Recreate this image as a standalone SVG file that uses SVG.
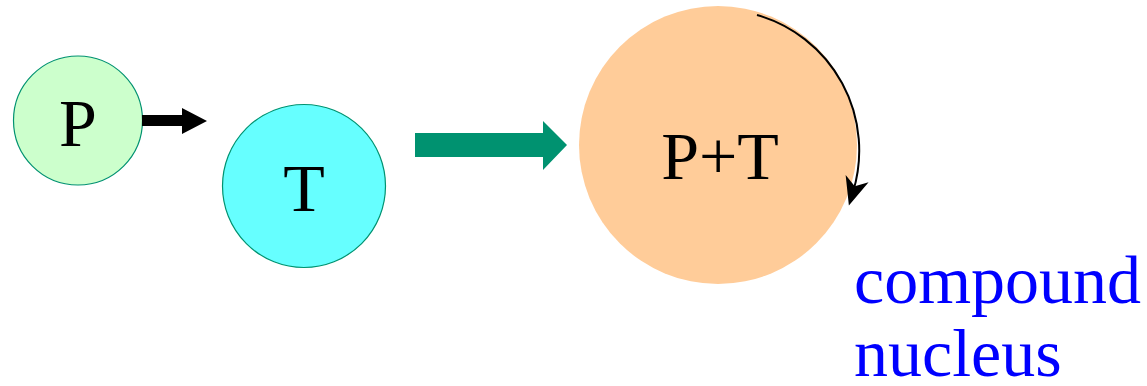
<svg xmlns="http://www.w3.org/2000/svg" width="1147" height="386" viewBox="0 0 1147 386">
  <style>
    .lbl { font-family: "Liberation Serif", "Times New Roman", serif; fill: #000; text-anchor: middle; }
    .blue { font-family: "Liberation Serif", "Times New Roman", serif; fill: #0000FF; }
  </style>
  <defs>
    <marker id="spin" viewBox="0 0 30 30" refX="14" refY="15" markerWidth="30" markerHeight="30" markerUnits="userSpaceOnUse" orient="auto">
      <path d="M0,3 L28,15 L0,27 L8,15 Z" fill="#000"/>
    </marker>
  </defs>

  <g id="node-compound">
    <circle cx="718" cy="145" r="139" fill="#FFCC99"/>
    <text class="lbl" x="720" y="179" font-size="68">P+T</text>
  </g>

  <g id="node-projectile">
    <circle cx="78" cy="120.5" r="64.5" fill="#CCFFCC" stroke="#009270" stroke-width="1.2"/>
    <text class="lbl" x="78" y="146" font-size="68">P</text>
  </g>

  <g id="node-target">
    <circle cx="304" cy="186" r="81.5" fill="#66FFFF" stroke="#009270" stroke-width="1.2"/>
    <text class="lbl" x="304" y="211" font-size="68">T</text>
  </g>

  <g id="connectors">
    <!-- projectile motion -->
    <polygon points="142,115 182,115 182,108 207,121 182,134 182,126 142,126" fill="#000"/>
    <!-- fusion into compound system -->
    <polygon points="415,133 543,133 543,121 567,145 543,170 543,157 415,157" fill="#009270"/>
    <!-- rotation of compound nucleus -->
    <path d="M757,15 A141,141 0 0 1 853,192" fill="none" stroke="#000" stroke-width="2" marker-end="url(#spin)"/>
  </g>

  <g id="caption">
    <text class="blue" x="854" y="303" font-size="68">compound</text>
    <text class="blue" x="854" y="376" font-size="68">nucleus</text>
  </g>
</svg>
